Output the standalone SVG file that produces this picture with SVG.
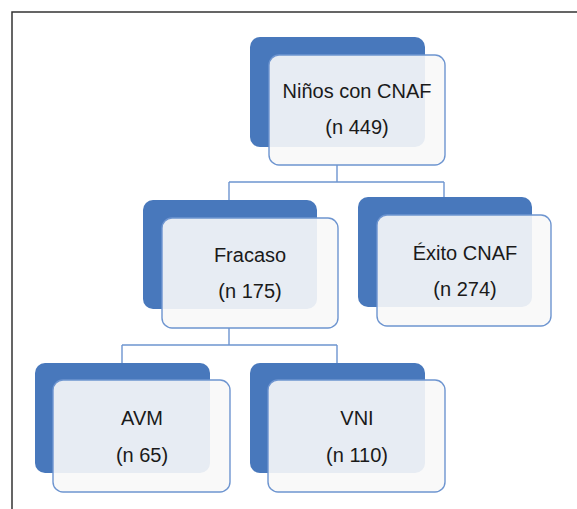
<svg xmlns="http://www.w3.org/2000/svg" width="577" height="509" viewBox="0 0 577 509">
<style>
.back{fill:#4878bc;}
.front{fill:#f8f8f8;fill-opacity:0.9;stroke:#6e95d0;stroke-width:1.4;}
.conn{fill:none;stroke:#6e95d0;stroke-width:1.4;}
.t{font-family:"Liberation Sans",Arial,sans-serif;font-size:20px;fill:#1a1a1a;text-anchor:middle;}
.frame{fill:none;stroke:#333;stroke-width:1.5;}
</style>
<rect width="577" height="509" fill="#fff"/>
<path class="frame" d="M12 509 V12 H577"/>
<g id="connectors">
<path class="conn" d="M337 165 V182 M229 182 H444 M229 182 V200 M444 182 V197"/>
<path class="conn" d="M229 328 V345 M122 345 H337 M122 345 V363 M337 345 V363"/>
</g>
<g id="node-ninos">
<rect class="back" x="250" y="37" width="175" height="110" rx="10"/>
<rect class="front" x="269" y="55" width="176" height="110" rx="10"/>
<text class="t" x="357" y="98">Niños con CNAF</text>
<text class="t" x="357" y="134">(n 449)</text>
</g>
<g id="node-fracaso">
<rect class="back" x="143" y="200" width="174" height="109" rx="10"/>
<rect class="front" x="162" y="218" width="176" height="110" rx="10"/>
<text class="t" x="250" y="262">Fracaso</text>
<text class="t" x="250" y="298">(n 175)</text>
</g>
<g id="node-exito">
<rect class="back" x="358" y="197" width="174" height="110" rx="10"/>
<rect class="front" x="377" y="215" width="174" height="111" rx="10"/>
<text class="t" x="465" y="260">Éxito CNAF</text>
<text class="t" x="465" y="296">(n 274)</text>
</g>
<g id="node-avm">
<rect class="back" x="35" y="363" width="175" height="110" rx="10"/>
<rect class="front" x="53" y="380" width="177" height="112" rx="10"/>
<text class="t" x="142" y="425">AVM</text>
<text class="t" x="142" y="462">(n 65)</text>
</g>
<g id="node-vni">
<rect class="back" x="250" y="363" width="175" height="110" rx="10"/>
<rect class="front" x="268" y="380" width="177" height="112" rx="10"/>
<text class="t" x="357" y="425">VNI</text>
<text class="t" x="357" y="462">(n 110)</text>
</g>
</svg>
